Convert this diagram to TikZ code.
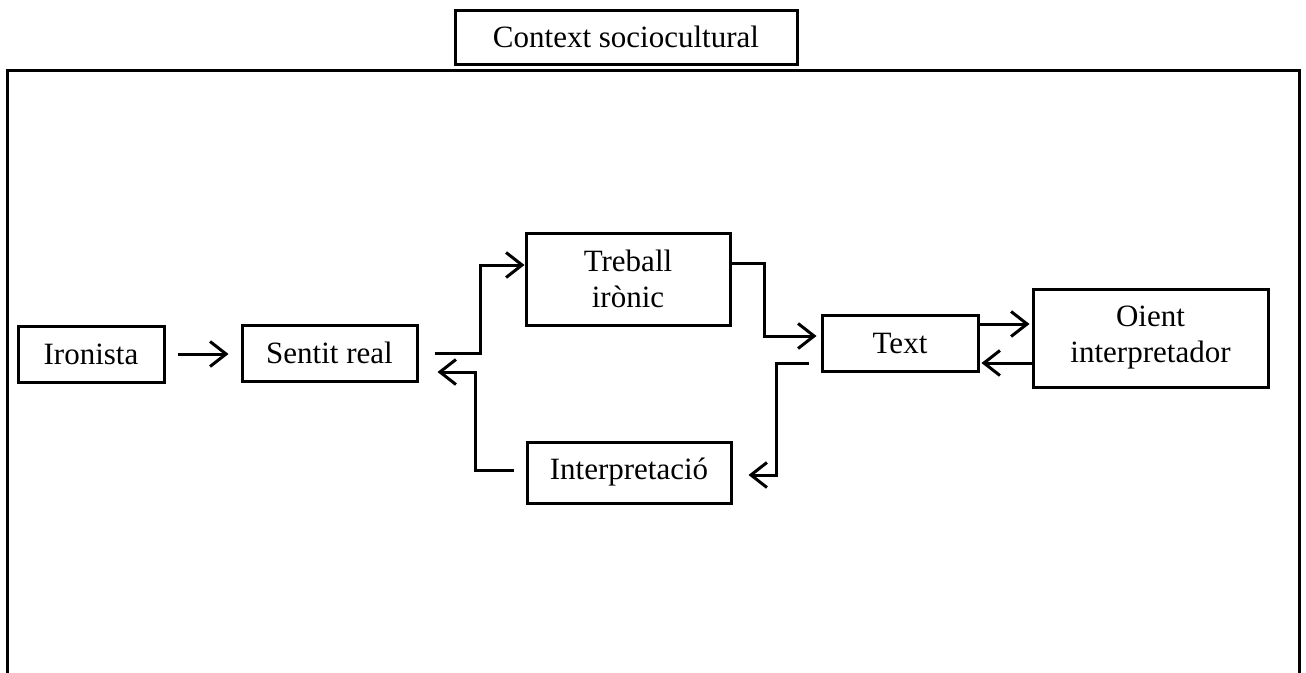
\documentclass[tikz,border=0pt]{standalone}
\usepackage{fontspec}
\setmainfont{Liberation Serif}
\usetikzlibrary{arrows.meta}
\begin{document}
\begin{tikzpicture}[x=1pt,y=-1pt,
  box/.style={draw,line width=3pt,inner sep=0pt,align=center,
    font=\fontsize{31}{36}\selectfont},
  arr/.style={line width=3pt,-{Straight Barb[length=16pt,width=25pt,line width=3pt]}},
  frameline/.style={line width=3pt}]
\useasboundingbox (0,0) rectangle (1306,672);
% frame
\coordinate (fbl) at (7,680);
\coordinate (ftl) at (7,70);
\coordinate (ftr) at (1299,70);
\coordinate (fbr) at (1299,680);
\draw[frameline] (fbl) -- (ftl) -- (ftr) -- (fbr);
% nodes
\node[box,minimum width=342pt,minimum height=54pt] (ctx) at (626,37) {Context sociocultural};
\node[box,minimum width=146pt,minimum height=56pt] (iron) at (91,354) {Ironista};
\node[box,minimum width=175pt,minimum height=56pt] (sent) at (329.5,353) {Sentit real};
\node[box,minimum width=204pt,minimum height=92pt] (treb) at (628,279) {Treball\\irònic};
\node[box,minimum width=204pt,minimum height=61pt] (interp) at (629,472.5) {Interpretació};
\node[box,minimum width=156pt,minimum height=56pt] (text) at (900,343) {Text};
\node[box,minimum width=235pt,minimum height=98pt] (oient) at (1150.5,338) {Oient\\interpretador};
% connectors
\draw[arr,shorten <=12pt,shorten >=12pt] (iron.east) -- (iron.east -| sent.west);
\draw[arr,shorten <=16pt] (sent.east) -- ++(62,0) |- ([yshift=14pt]treb.west);
\draw[arr,shorten >=4pt] ([yshift=16pt]treb.east) -- ++(33,0) |- ([yshift=7pt]text.west);
\draw[arr,shorten <=12pt,shorten >=16pt] ([yshift=-20pt]text.west) -- ++(-44,0) |- ([yshift=-2.5pt]interp.east);
\draw[arr,shorten <=12pt,shorten >=19pt] ([yshift=2.5pt]interp.west) -- ++(-50,0) |- ([yshift=-19pt]sent.east);
\draw[arr,shorten >=2pt] ([yshift=19pt]text.east) -- ([yshift=19pt]text.east -| oient.west);
\draw[arr,shorten >=2pt] ([yshift=-20pt]text.east -| oient.west) -- ([yshift=-20pt]text.east);
\end{tikzpicture}
\end{document}
